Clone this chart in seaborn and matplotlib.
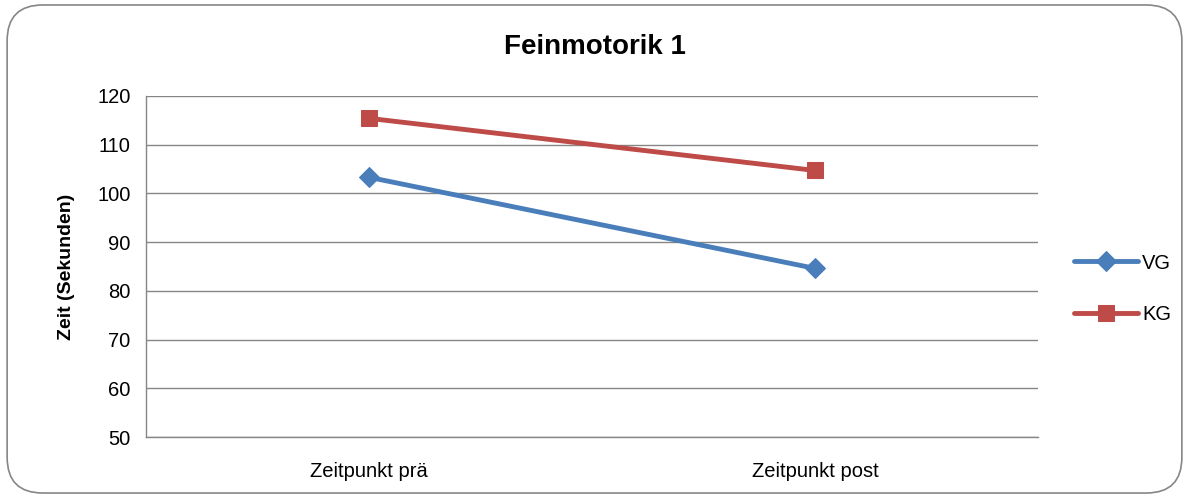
import matplotlib
matplotlib.use("Agg")
import matplotlib.pyplot as plt
import seaborn as sns
import pandas as pd
from matplotlib.patches import FancyBboxPatch

categories = ["Zeitpunkt prä", "Zeitpunkt post"]
vg_values = [103.3, 84.6]
kg_values = [115.4, 104.7]
series_names = ["VG", "KG"]
yticks = [50, 60, 70, 80, 90, 100, 110, 120]

df = pd.DataFrame({
    "Zeitpunkt": categories * 2,
    "Zeit": vg_values + kg_values,
    "Gruppe": [series_names[0]] * 2 + [series_names[1]] * 2,
})
df["x"] = [0, 1, 0, 1]

sns.set_style("white")
plt.rcParams["font.family"] = ["Liberation Sans", "DejaVu Sans"]
plt.rcParams["text.color"] = "black"
plt.rcParams["xtick.color"] = "black"
plt.rcParams["ytick.color"] = "black"
plt.rcParams["axes.labelcolor"] = "black"

fig = plt.figure(figsize=(11.89, 4.97), dpi=100)
ax = fig.add_axes([0.1228, 0.1207, 0.873 - 0.1228, 0.807 - 0.1207])

border = FancyBboxPatch((0.006, 0.008), 0.988, 0.982, boxstyle="round,pad=0,rounding_size=0.03",
                        transform=fig.transFigure, facecolor="white", edgecolor="#868686",
                        linewidth=1.2, mutation_aspect=1189/497, zorder=-10)
fig.patches.append(border)

palette = {"VG": "#4A7EBB", "KG": "#BE4B48"}
markers = {"VG": "D", "KG": "s"}
sizes = {"VG": 10, "KG": 12}
for g in series_names:
    sub = df[df["Gruppe"] == g]
    sns.lineplot(data=sub, x="x", y="Zeit", ax=ax, color=palette[g], linewidth=3.5,
                 marker=markers[g], markersize=sizes[g], markeredgecolor=palette[g],
                 label=g, zorder=3)

ax.set_xlim(-0.5, 1.5)
ax.set_ylim(50, 120)
ax.set_yticks(yticks)
ax.set_xticks([0, 1])
ax.set_xticklabels(categories, fontsize=14.5)
ax.tick_params(axis="y", labelsize=14.5, length=5, color="#868686", direction="out", pad=6)
ax.tick_params(axis="x", length=0, pad=18)
ax.yaxis.grid(True, color="#868686", linewidth=1)
ax.set_axisbelow(True)
for s in ["top", "right"]:
    ax.spines[s].set_visible(False)
for s in ["left", "bottom"]:
    ax.spines[s].set_color("#868686")
    ax.spines[s].set_linewidth(1)
ax.set_xlabel("")
ax.set_ylabel("Zeit (Sekunden)", fontsize=14, fontweight="bold", labelpad=16)
fig.text(0.5, 0.905, "Feinmotorik 1", ha="center", va="center", fontsize=20, fontweight="bold")

leg = ax.legend(loc="center left", bbox_to_anchor=(1.04, 0.435), frameon=False, fontsize=14.5,
                handlelength=3.2, labelspacing=1.6, handletextpad=0.2, borderaxespad=0,
                borderpad=0)

fig.savefig("out.png", dpi=100)
